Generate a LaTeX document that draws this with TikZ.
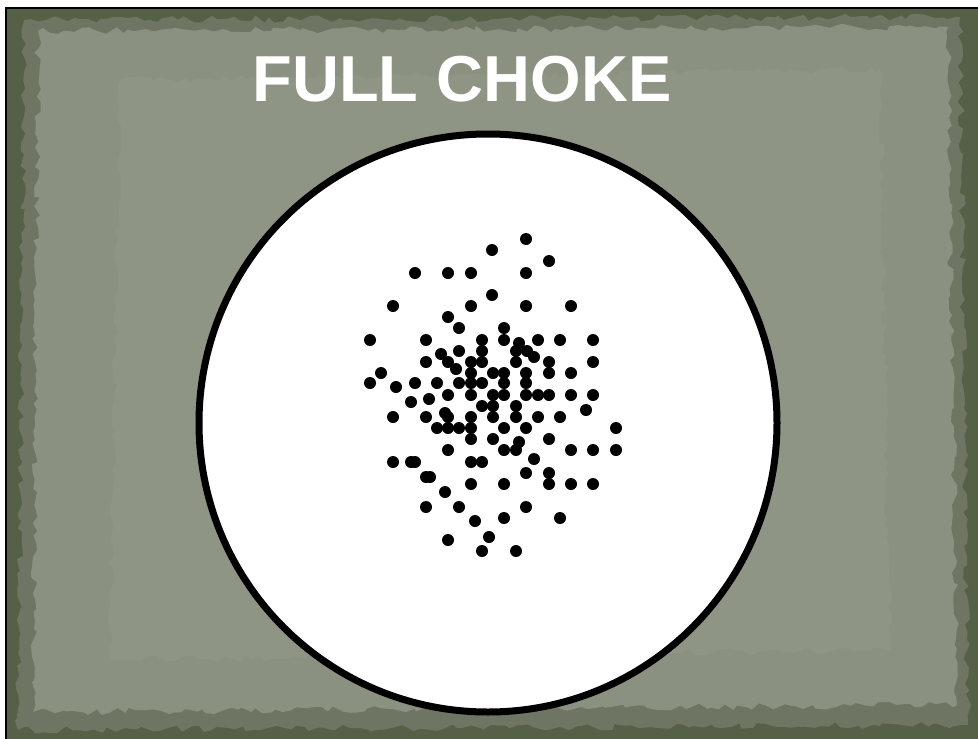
\documentclass[tikz,border=0pt]{standalone}
\usepackage{fontspec}
\setmainfont{Liberation Sans}
\usetikzlibrary{decorations.pathmorphing}
\definecolor{frameol}{HTML}{566047}
\definecolor{midol}{HTML}{6E7663}
\definecolor{paperol}{HTML}{8A9181}
\definecolor{paperlt}{HTML}{8E9585}
\tikzset{
  shot/.style={fill=black},
  rag/.style={decorate, decoration={random steps, segment length=7, amplitude=3.5}},
  titletext/.style={text=white, font=\bfseries\fontsize{65}{65}\selectfont, inner sep=0pt},
  target/.style={fill=white, draw=black, line width=7}
}
\begin{document}
\begin{tikzpicture}[x=1pt,y=-1pt]
\pgfmathsetseed{7}
\useasboundingbox (0,0) rectangle (978,739);
\fill[white] (0,0) rectangle (978,739);
\fill[frameol] (6,8) rectangle (978,739);
\fill[midol, rag] (24,20) -- (960,17) -- (968,725) -- (18,730) -- cycle;
\fill[paperol, rag] (38,31) -- (948,27) -- (957,705) -- (33,712) -- cycle;
\fill[paperlt, rag] (120,80) -- (880,70) -- (890,650) -- (110,660) -- cycle;
\draw[black, line width=2.5] (6.2,739) -- (6.2,8.2) -- (978,8.2);
\node[titletext] (title) at (462,79) {FULL CHOKE};
\path[target] (488,423) circle (289);
\coordinate (center) at (488,423);
\foreach \x/\y in {
526/239, 492/250, 549/261,
415/273, 448/273, 471/273, 526/273,
492/295,
393/306, 471/306, 526/306, 571/306,
448/317, 459/328, 504/328,
370/340, 426/340, 482/340, 504/340, 519/343, 538/340, 560/340, 593/340,
459/351, 482/351, 516/351, 527/351, 441/354, 534/357,
426/362, 448/362, 471/362, 482/362, 516/362, 549/362, 593/362,
456/369,
381/373, 471/373, 493/373, 504/373, 526/373, 549/373, 571/373,
370/383, 396/387, 415/383, 437/383, 459/383, 471/383, 482/383, 504/383, 526/383,
448/395, 471/395, 493/395, 504/395, 526/395, 538/395, 549/395, 571/395, 593/395,
411/402, 429/399,
482/406, 493/406, 516/406, 586/410,
393/417, 426/417, 445/413, 448/417, 471/417, 493/417, 516/417, 538/417, 560/417,
437/428, 448/428, 459/428, 471/428, 504/428, 526/428, 616/428,
471/439, 493/439, 549/439, 519/442,
448/450, 504/450, 516/450, 571/450, 593/450, 616/450,
534/459,
393/462, 411/462, 415/462, 471/462, 482/462,
526/473, 549/473, 426/477, 430/477,
471/484, 504/484, 549/484, 571/484, 593/484,
445/492,
426/507, 459/507, 526/507,
504/518, 560/518, 475/521,
489/537, 448/540,
482/551, 516/551}
  \fill[shot] (\x,\y) circle (6);
\end{tikzpicture}
\end{document}
